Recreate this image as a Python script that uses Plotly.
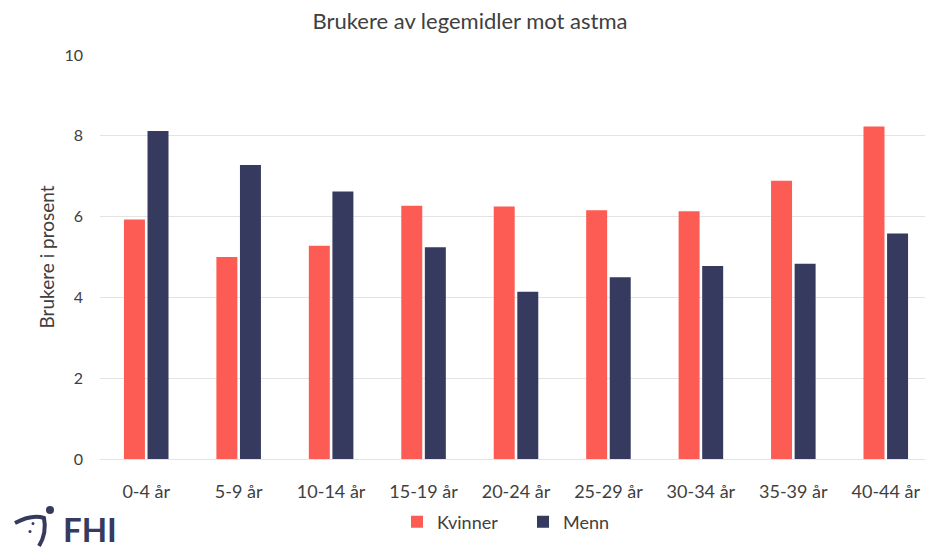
import plotly.graph_objects as go

categories = ["0-4 år", "5-9 år", "10-14 år", "15-19 år", "20-24 år",
              "25-29 år", "30-34 år", "35-39 år", "40-44 år"]
kvinner = [5.93, 5.00, 5.28, 6.27, 6.25, 6.16, 6.13, 6.89, 8.23]
menn = [8.12, 7.28, 6.62, 5.24, 4.14, 4.50, 4.78, 4.83, 5.58]
y_ticks = [0, 2, 4, 6, 8, 10]

OFF = 8  # page body margin
W, H = 933 - OFF, 548 - OFF
PL, PR, PT, PB = 100, 932, 55, 459  # plot area in window pixels
L, R, T, B = PL - OFF, W - (PR - OFF), PT - OFF, H - (PB - OFF)
FONT = "Lato, Open Sans, sans-serif"
DARK = "#363A5F"


def px(x):
    return (x - PL) / (PR - PL)


def py(y):
    return (PB - y) / (PB - PT)


fig = go.Figure()
fig.add_trace(go.Bar(name="Kvinner", x=categories, y=kvinner,
                     marker=dict(color="#FC5C53", line=dict(width=0))))
fig.add_trace(go.Bar(name="Menn", x=categories, y=menn,
                     marker=dict(color=DARK, line=dict(width=0))))

# FHI logo (decoration)
shapes = [
    dict(type="path", xref="paper", yref="paper",
         path=f"M {px(15)},{py(523)} Q {px(32)},{py(514)} {px(44)},{py(518)} "
              f"Q {px(47)},{py(533)} {px(39)},{py(546)}",
         line=dict(color=DARK, width=4)),
    dict(type="circle", xref="paper", yref="paper",
         x0=px(46), x1=px(54), y0=py(506), y1=py(514),
         fillcolor=DARK, line=dict(width=0)),
    dict(type="circle", xref="paper", yref="paper",
         x0=px(31.5), x1=px(34.5), y0=py(522), y1=py(525),
         fillcolor=DARK, line=dict(width=0)),
    dict(type="circle", xref="paper", yref="paper",
         x0=px(28.5), x1=px(31.5), y0=py(530), y1=py(533),
         fillcolor=DARK, line=dict(width=0)),
]

fig.update_layout(
    width=W, height=H,
    margin=dict(l=L, r=R, t=T, b=B, autoexpand=False),
    paper_bgcolor="white", plot_bgcolor="white",
    font=dict(family=FONT, color="#404040"),
    title=dict(text="Brukere av legemidler mot astma",
               font=dict(size=22, color="#404040", family=FONT),
               x=(470 - OFF) / W, xanchor="center",
               y=1 - (21 - OFF) / H, yanchor="middle"),
    barmode="group", bargap=0.49, bargroupgap=0.11,
    showlegend=True,
    legend=dict(orientation="h", x=px(523), xanchor="center",
                y=py(522), yanchor="middle",
                font=dict(size=18, color="#404040"),
                entrywidth=81, entrywidthmode="pixels",
                traceorder="normal"),
    xaxis=dict(showgrid=False, tickfont=dict(size=18, color="#404040"),
               ticks="", showline=False, ticklabelstandoff=20),
    yaxis=dict(range=[0, 10], tickvals=y_ticks, showgrid=True,
               gridcolor="#E3E3E3", gridwidth=1, zeroline=True,
               zerolinecolor="#E3E3E3", zerolinewidth=1,
               tickfont=dict(size=16, color="#404040"), ticklabelstandoff=16,
               title=dict(text="Brukere i prosent",
                          font=dict(size=19, color="#404040"), standoff=4)),
    shapes=shapes,
    annotations=[dict(text="<b>FHI</b>", xref="paper", yref="paper",
                      x=px(61), y=py(529), xanchor="left", yanchor="middle",
                      showarrow=False,
                      font=dict(size=33, color=DARK, family=FONT))],
)

fig.write_html("out.html")
